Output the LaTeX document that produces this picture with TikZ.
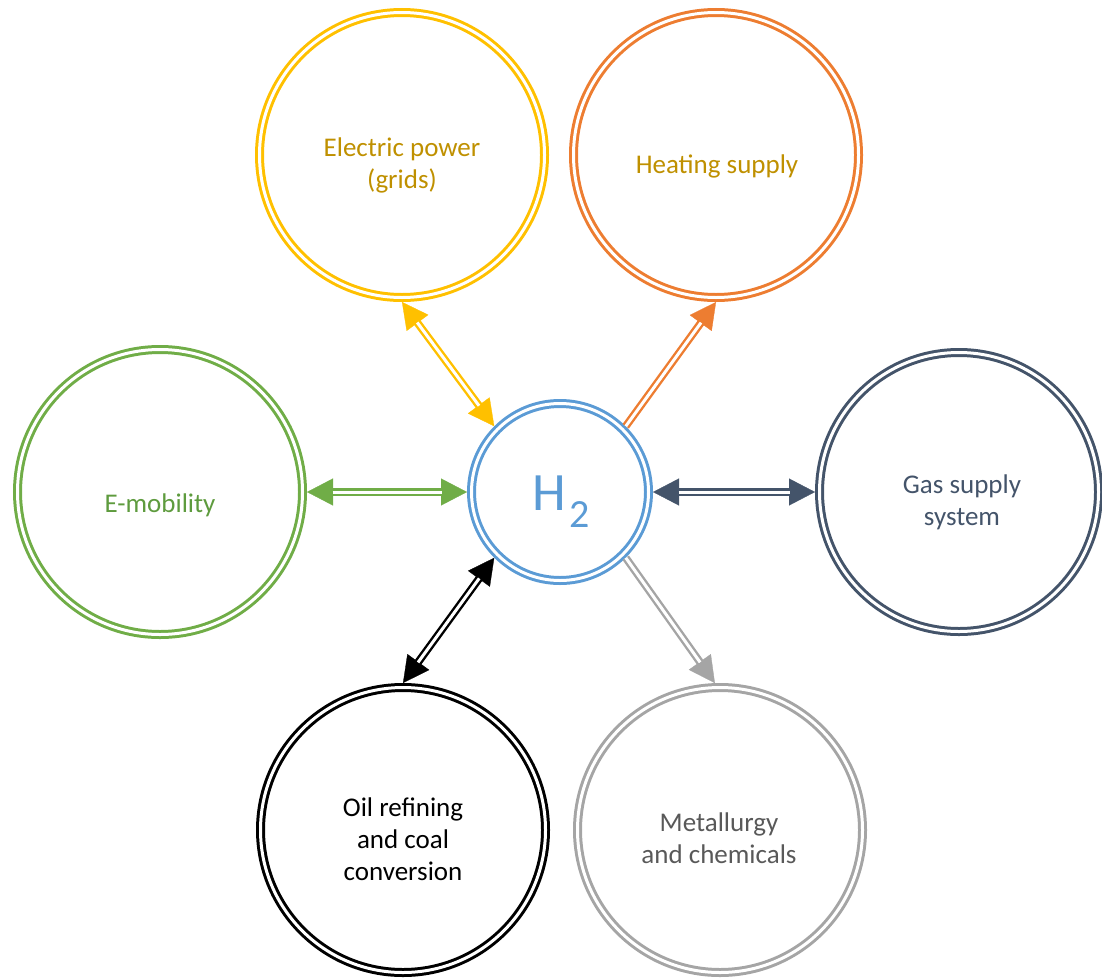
\documentclass[tikz,border=0pt]{standalone}
\usepackage{fontspec}
\setmainfont{Carlito}
\usetikzlibrary{arrows.meta}

\definecolor{cYellow}{HTML}{FFC000}
\definecolor{cGold}{HTML}{BF9000}
\definecolor{cOrange}{HTML}{ED7D31}
\definecolor{cGreen}{HTML}{70AD47}
\definecolor{cGreenText}{HTML}{5E9B3E}
\definecolor{cBlue}{HTML}{5B9BD5}
\definecolor{cSlate}{HTML}{44546A}
\definecolor{cGrey}{HTML}{A5A5A5}
\definecolor{cGreyText}{HTML}{595959}

\tikzset{
  % double-ringed circle; anchors sit on the outer edge of the ring
  ring/.style={circle, draw=#1, double=white, line width=3pt,
    double distance=3pt, inner sep=0pt, outer sep=4.5pt,
    minimum size=285pt},
  % multi-line captions: the given point is the baseline of the last line
  ringtext/.style={font=\fontsize{27}{32}\selectfont, align=center,
    anchor=base, text=#1},
  % filled heads drawn on a hairline, shaft drawn on top as a double line
  bighead/.tip={Triangle[length=26pt,width=27pt]},
  tipline/.style={draw=#1, line width=0.3pt},
  shaft/.style={draw=#1, double=white, line width=2.4pt, double distance=3pt},
}

\begin{document}
\begin{tikzpicture}[x=1pt, y=-1pt]
\useasboundingbox (0,0) rectangle (1102,977);

% rings
\node[ring=cYellow] (elec) at (402,155) {};
\node[ring=cOrange] (heat) at (716,155) {};
\node[ring=cGreen]  (emob) at (160,492) {};
\node[ring=cSlate, minimum size=279pt] (gas) at (959,492) {};
\node[ring=black]   (oil)  at (403,830) {};
\node[ring=cGrey]   (met)  at (720,830) {};
\node[ring=cBlue, minimum size=177pt] (h2) at (560,492) {};

% texts
\node[ringtext=cGold] (elec-t) at (402,188) {Electric power\\(grids)};
\node[ringtext=cGold] (heat-t) at (717,173) {Heating supply};
\node[ringtext=cGreenText] (emob-t) at (160,512) {E-mobility};
\node[ringtext=cSlate] (gas-t) at (962,525) {Gas supply\\system};
\node[ringtext=black] (oil-t) at (403,880) {Oil refining\\and coal\\conversion};
\node[ringtext=cGreyText] (met-t) at (719,863) {Metallurgy\\and chemicals};
\node[ringtext=cBlue, font=\fontsize{54}{60}\selectfont] (h2-t) at (561,510)
  {H\kern4pt\raisebox{-17pt}{\fontsize{40}{40}\selectfont 2}};

% connectors
\draw[tipline=cYellow, bighead-bighead] (elec.south) -- (h2.135);
\draw[shaft=cYellow, shorten <=25.5pt, shorten >=25.5pt] (elec.south) -- (h2.135);

\draw[tipline=cOrange, -bighead] (h2.45) -- (heat.south);
\draw[shaft=cOrange, shorten >=25.5pt] (h2.45) -- (heat.south);

\draw[tipline=cGreen, bighead-bighead] (emob.east) -- (h2.west);
\draw[shaft=cGreen, shorten <=25.5pt, shorten >=25.5pt] (emob.east) -- (h2.west);

\draw[tipline=cSlate, bighead-bighead] (h2.east) -- (gas.west);
\draw[shaft=cSlate, shorten <=25.5pt, shorten >=25.5pt] (h2.east) -- (gas.west);

\draw[tipline=black, bighead-bighead] (h2.225) -- (oil.north);
\draw[shaft=black, shorten <=25.5pt, shorten >=25.5pt] (h2.225) -- (oil.north);

\draw[tipline=cGrey, -bighead] (h2.-45) -- (met.92);
\draw[shaft=cGrey, shorten >=25.5pt] (h2.-45) -- (met.92);
\end{tikzpicture}
\end{document}
